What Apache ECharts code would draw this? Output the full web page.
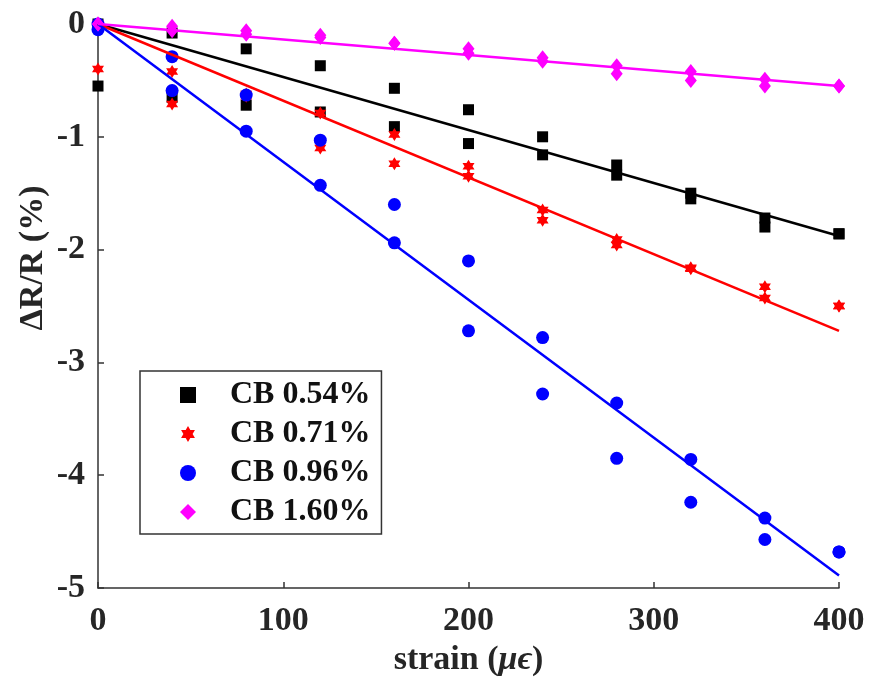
<!DOCTYPE html>
<html>
<head>
<meta charset="utf-8">
<script src="https://cdn.jsdelivr.net/npm/echarts@6/dist/echarts.min.js"></script>
<style>html,body{margin:0;padding:0;background:#fff}#c{width:870px;height:691px}</style>
</head>
<body>
<div id="c"></div>
<script>
// strain (microstrain) – each level was measured twice
const strain = [0, 40, 80, 120, 160, 200, 240, 280, 320, 360, 400];
const seriesNames = ['CB 0.54%', 'CB 0.71%', 'CB 0.96%', 'CB 1.60%'];

const cb054_a = [0, -0.08, -0.22, -0.37, -0.57, -0.76, -1.00, -1.25, -1.50, -1.72, -1.86];
const cb054_b = [-0.55, -0.65, -0.72, -0.78, -0.91, -1.06, -1.16, -1.34, -1.55, -1.80, -1.86];
const cb071_a = [0, -0.42, -0.62, -0.79, -0.98, -1.26, -1.65, -1.91, -2.16, -2.33, -2.50];
const cb071_b = [-0.40, -0.71, -0.64, -1.10, -1.24, -1.35, -1.74, -1.96, -2.17, -2.43, -2.50];
const cb096_a = [0, -0.29, -0.63, -1.03, -1.60, -2.10, -2.78, -3.36, -3.86, -4.38, -4.68];
const cb096_b = [-0.05, -0.59, -0.95, -1.43, -1.94, -2.72, -3.28, -3.85, -4.24, -4.57, -4.68];
const cb160_a = [0, -0.02, -0.06, -0.10, -0.17, -0.22, -0.30, -0.37, -0.42, -0.49, -0.55];
const cb160_b = [0, -0.06, -0.09, -0.12, -0.17, -0.26, -0.33, -0.44, -0.50, -0.55, -0.55];

// linear fits through origin: values at strain 0 and 400
const fitX = [0, 400];
const fit054 = [0, -1.88];
const fit071 = [0, -2.72];
const fit096 = [0, -4.89];
const fit160 = [0, -0.55];

const xTicks = [0, 100, 200, 300, 400];
const yTicks = [0, -1, -2, -3, -4, -5];

const colors = ['#000000', '#ff0000', '#0000ff', '#ff00ff'];
const hexagram = 'path://M0,-1 L0.866,0.5 L-0.866,0.5 Z M0,1 L-0.866,-0.5 L0.866,-0.5 Z';
const symbols = ['rect', hexagram, 'circle', 'diamond'];
const sizes = [[11, 11], [12, 13], [13, 13], [12, 15]];
const runs = [[cb054_a, cb054_b], [cb071_a, cb071_b], [cb096_a, cb096_b], [cb160_a, cb160_b]];
const fits = [fit054, fit071, fit096, fit160];

function pairs(xs, ys) { return xs.map((x, i) => [x, ys[i]]); }

const FONT = 'Liberation Serif';
const series = [];
runs.forEach((r, k) => {
  const data = pairs(strain, r[0]).concat(pairs(strain, r[1]));
  series.push({
    name: seriesNames[k], type: 'scatter', data: data,
    symbol: symbols[k], symbolSize: sizes[k], symbolKeepAspect: false,
    itemStyle: { color: colors[k], opacity: 1 }, z: 3
  });
});
fits.forEach((f, k) => {
  series.push({
    name: 'fit ' + seriesNames[k], type: 'line', data: pairs(fitX, f),
    showSymbol: false, symbol: 'none',
    lineStyle: { color: colors[k], width: 2.5 }, z: 4, silent: true
  });
});

const chart = echarts.init(document.getElementById('c'), null, { renderer: 'canvas' });
chart.setOption({
  animation: false,
  backgroundColor: '#ffffff',
  grid: { left: 98, right: 31, top: 24, bottom: 103, containLabel: false },
  xAxis: {
    type: 'value', min: xTicks[0], max: xTicks[xTicks.length - 1], interval: 100,
    position: 'bottom',
    name: 'strain ({i|μϵ})', nameLocation: 'middle', nameGap: 52,
    nameTextStyle: {
      fontFamily: FONT, fontSize: 34, fontWeight: 'bold', color: '#262626',
      rich: { i: { fontFamily: FONT, fontSize: 34, fontStyle: 'italic', color: '#262626' } }
    },
    axisLine: { show: true, onZero: false, lineStyle: { color: '#333', width: 1.5 } },
    axisTick: { show: true, inside: true, length: 6, lineStyle: { color: '#333', width: 1.5 } },
    axisLabel: { margin: 16, fontFamily: FONT, fontSize: 34, fontWeight: 'bold', color: '#262626' },
    splitLine: { show: false }
  },
  yAxis: {
    type: 'value', min: yTicks[yTicks.length - 1], max: yTicks[0], interval: 1,
    position: 'left',
    axisLine: { show: true, onZero: false, lineStyle: { color: '#333', width: 1.5 } },
    axisTick: { show: true, inside: true, length: 6, lineStyle: { color: '#333', width: 1.5 } },
    axisLabel: { margin: 13, fontFamily: FONT, fontSize: 34, fontWeight: 'bold', color: '#262626' },
    splitLine: { show: false }
  },
  legend: {
    data: seriesNames,
    orient: 'vertical', left: 140, top: 371,
    padding: [8, 11, 6, 40],
    itemGap: 7, itemWidth: 16, itemHeight: 16,
    borderColor: '#333', borderWidth: 1.5, backgroundColor: '#fff',
    textStyle: { fontFamily: FONT, fontSize: 32, fontWeight: 'bold', color: '#111', padding: [0, 0, 0, 29] },
    selectedMode: false
  },
  graphic: [{
    type: 'text', x: 33, y: 258, rotation: Math.PI / 2,
    style: {
      text: 'ΔR/R (%)', fontFamily: FONT, fontSize: 34, fontWeight: 'bold',
      fill: '#262626', align: 'center', verticalAlign: 'middle'
    }
  }],
  series: series
});
</script>
</body>
</html>
